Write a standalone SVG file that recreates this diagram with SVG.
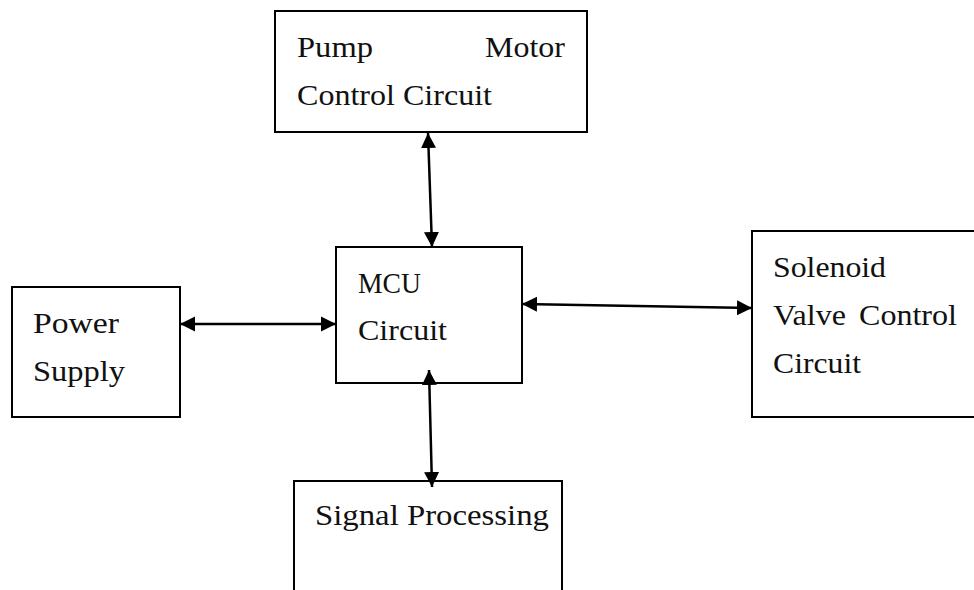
<svg xmlns="http://www.w3.org/2000/svg" width="974" height="590" viewBox="0 0 974 590">
  <defs>
    <style>
      .box { fill: #ffffff; stroke: #000000; stroke-width: 2; }
      .lbl { font-family: "Liberation Serif", "Times New Roman", serif; font-size: 30px; fill: #111111; }
      .conn { stroke: #000000; stroke-width: 2.5; fill: none; marker-start: url(#ah); marker-end: url(#ah); }
    </style>
    <marker id="ah" markerUnits="userSpaceOnUse" markerWidth="16" markerHeight="16" refX="15" refY="7.5" orient="auto-start-reverse" viewBox="0 0 16 15">
      <path d="M0,0 L15,7.5 L0,15 Z" fill="#000000"/>
    </marker>
  </defs>
  <rect width="974" height="590" fill="#ffffff"/>

  <g id="pump">
    <rect class="box" x="275" y="11" width="312" height="121"/>
    <text class="lbl" x="297" y="57" textLength="76" lengthAdjust="spacingAndGlyphs">Pump</text>
    <text class="lbl" x="485" y="57" textLength="80" lengthAdjust="spacingAndGlyphs">Motor</text>
    <text class="lbl" x="297" y="105" textLength="195" lengthAdjust="spacingAndGlyphs">Control Circuit</text>
  </g>

  <g id="mcu">
    <rect class="box" x="336" y="247" width="186" height="136"/>
    <text class="lbl" x="358" y="293" textLength="63" lengthAdjust="spacingAndGlyphs">MCU</text>
    <text class="lbl" x="358" y="340" textLength="89" lengthAdjust="spacingAndGlyphs">Circuit</text>
  </g>

  <g id="power">
    <rect class="box" x="12" y="287" width="168" height="130"/>
    <text class="lbl" x="33" y="333" textLength="86" lengthAdjust="spacingAndGlyphs">Power</text>
    <text class="lbl" x="33" y="381" textLength="92" lengthAdjust="spacingAndGlyphs">Supply</text>
  </g>

  <g id="solenoid">
    <rect class="box" x="752" y="231" width="240" height="186"/>
    <text class="lbl" x="773" y="277" textLength="113" lengthAdjust="spacingAndGlyphs">Solenoid</text>
    <text class="lbl" x="773" y="325" textLength="73" lengthAdjust="spacingAndGlyphs">Valve</text>
    <text class="lbl" x="859" y="325" textLength="98" lengthAdjust="spacingAndGlyphs">Control</text>
    <text class="lbl" x="773" y="373" textLength="88" lengthAdjust="spacingAndGlyphs">Circuit</text>
  </g>

  <g id="signal">
    <rect class="box" x="294" y="481" width="268" height="130"/>
    <text class="lbl" x="315" y="525" textLength="234" lengthAdjust="spacingAndGlyphs">Signal Processing</text>
  </g>

  <g id="connectors">
    <line class="conn" x1="180" y1="324" x2="336" y2="324"/>
    <line class="conn" x1="522" y1="304" x2="752" y2="308"/>
    <line class="conn" x1="428" y1="133" x2="432" y2="247"/>
    <line class="conn" x1="429" y1="370" x2="432" y2="487"/>
  </g>
</svg>
